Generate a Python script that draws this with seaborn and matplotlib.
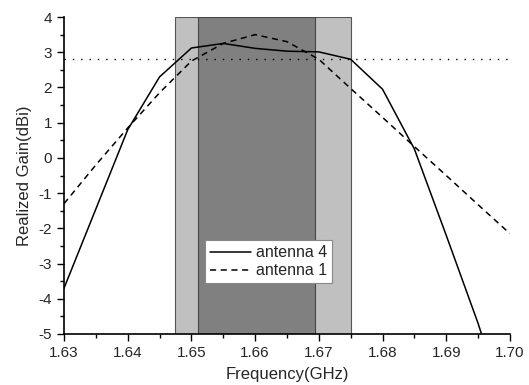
import numpy as np
import pandas as pd
import seaborn as sns
import matplotlib
matplotlib.use("Agg")
import matplotlib.pyplot as plt
from matplotlib.ticker import MultipleLocator

freq = [1.630, 1.635, 1.640, 1.645, 1.650, 1.655, 1.660, 1.665, 1.670,
        1.675, 1.680, 1.685, 1.690, 1.695, 1.700]
gain_ant4 = [-3.7, -1.45, 0.8, 2.3, 3.12, 3.25, 3.11, 3.03, 3.01,
             2.8, 1.95, 0.25, -2.2, -4.7, -7.5]
gain_ant1 = [-1.3, -0.2, 0.85, 1.85, 2.75, 3.25, 3.5, 3.3, 2.8,
             1.97, 1.15, 0.32, -0.5, -1.33, -2.15]
band_outer = (1.6474, 1.6750)
band_inner = (1.6510, 1.6694)
ref_level = 2.8

df = pd.DataFrame({
    "freq": freq * 2,
    "gain": gain_ant4 + gain_ant1,
    "antenna": ["antenna 4"] * len(freq) + ["antenna 1"] * len(freq),
})

sns.set_style("ticks")
plt.rcParams["font.family"] = ["Liberation Sans", "DejaVu Sans"]
plt.rcParams["axes.unicode_minus"] = False

fig = plt.figure(figsize=(5.29, 3.85), dpi=100)
ax = fig.add_axes([0.121, 0.1325, 0.843, 0.8233])

ax.axvspan(*band_outer, facecolor="#c0c0c0", edgecolor="#555555", lw=0.8, zorder=0)
ax.axvspan(*band_inner, facecolor="#808080", edgecolor="#444444", lw=0.8, zorder=0)
ax.plot([1.63, 1.70], [ref_level, ref_level], color="black", lw=1.0,
        linestyle=(0, (1, 5)), zorder=1)

sns.lineplot(data=df, x="freq", y="gain", style="antenna", color="black",
             dashes={"antenna 4": "", "antenna 1": (4, 3)}, lw=1.1,
             ax=ax, legend=True, zorder=2)

ax.set_xlim(1.63, 1.70)
ax.set_ylim(-5, 4)
ax.xaxis.set_major_locator(MultipleLocator(0.01))
ax.xaxis.set_minor_locator(MultipleLocator(0.005))
ax.yaxis.set_major_locator(MultipleLocator(1))
ax.yaxis.set_minor_locator(MultipleLocator(0.5))
ax.set_xticks(np.arange(1.63, 1.7001, 0.01))
ax.set_xticklabels([f"{v:.2f}" for v in np.arange(1.63, 1.7001, 0.01)])
ax.tick_params(which="major", length=5, width=1, labelsize=11, color="black")
ax.tick_params(which="minor", length=3, width=1, color="black")
sns.despine(ax=ax)
for s in ["left", "bottom"]:
    ax.spines[s].set_linewidth(1.2)
    ax.spines[s].set_color("black")

ax.set_xlabel("Frequency(GHz)", fontsize=12, labelpad=5)
ax.set_ylabel("Realized Gain(dBi)", fontsize=12, labelpad=5)

leg = ax.legend(loc="upper left", bbox_to_anchor=(0.316, 0.295), fontsize=11.5,
                frameon=True, fancybox=False, framealpha=1, edgecolor="#888888",
                handlelength=2.6, handletextpad=0.3, borderpad=0.3,
                labelspacing=0.2, borderaxespad=0)
leg.get_frame().set_linewidth(0.8)

fig.savefig("out.png", dpi=100)
